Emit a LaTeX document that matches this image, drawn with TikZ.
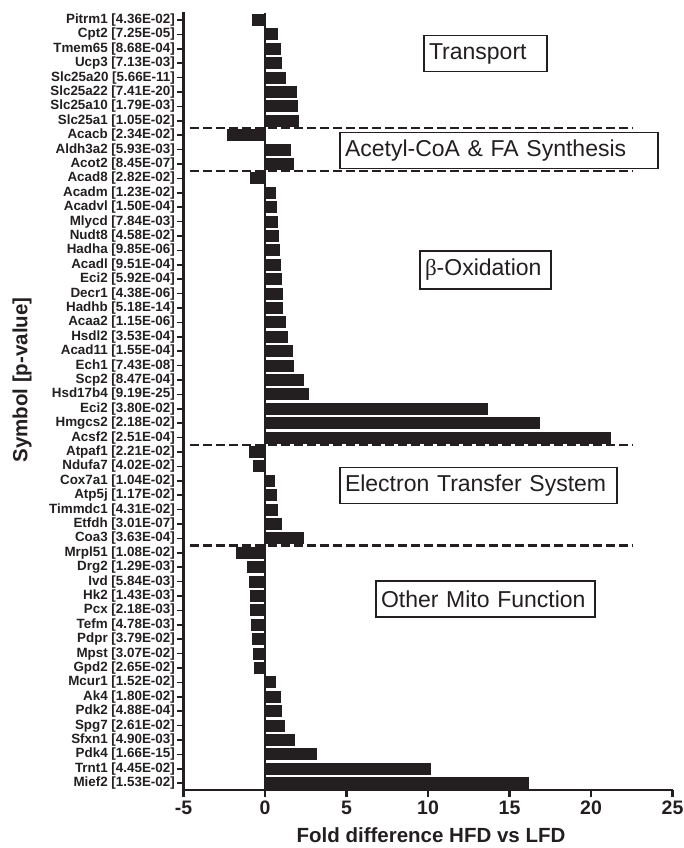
\documentclass[tikz,border=0pt]{standalone}
\usepackage{fontspec}
\setmainfont{Liberation Sans}
\newfontfamily\grk{Liberation Serif}
\definecolor{ink}{HTML}{231F20}
\tikzset{
  lbl/.style={anchor=east, inner sep=0pt, text=ink, font=\fontsize{13.4}{15}\selectfont\bfseries},
  ytick/.style={draw=ink, line width=1.6pt},
  axisline/.style={draw=ink, line width=2.2pt},
  zeroline/.style={draw=ink, line width=2pt},
  sepline/.style={draw=ink, line width=2.4pt, dash pattern=on 9pt off 4pt},
  catbox/.style={draw=ink, line width=1.8pt, text=ink, fill=white, inner xsep=5pt, inner ysep=0pt,
    minimum height=36pt, align=left, font=\fontsize{23}{26}\selectfont},
  ticklbl/.style={text=ink, inner sep=0pt, font=\fontsize{19.5}{21}\selectfont\bfseries},
  axlbl/.style={text=ink, inner sep=0pt, font=\fontsize{20.5}{23}\selectfont\bfseries},
  barfill/.style={fill=ink}
}
\begin{document}
\begin{tikzpicture}[x=1pt,y=-1pt]
\useasboundingbox (0,0) rectangle (683,848);
% bars, labels and ticks
\foreach \g/\p/\v [count=\i from 0] in {
 Pitrm1/4.36E-02/-0.8, Cpt2/7.25E-05/0.8, Tmem65/8.68E-04/1.0, Ucp3/7.13E-03/1.05,
 Slc25a20/5.66E-11/1.3, Slc25a22/7.41E-20/1.96, Slc25a10/1.79E-03/2.02, Slc25a1/1.05E-02/2.1,
 Acacb/2.34E-02/-2.33, Aldh3a2/5.93E-03/1.6, Acot2/8.45E-07/1.78,
 Acad8/2.82E-02/-0.92, Acadm/1.23E-02/0.67, Acadvl/1.50E-04/0.75, Mlycd/7.84E-03/0.82,
 Nudt8/4.58E-02/0.88, Hadha/9.85E-06/0.92, Acadl/9.51E-04/0.96, Eci2/5.92E-04/1.06,
 Decr1/4.38E-06/1.08, Hadhb/5.18E-14/1.12, Acaa2/1.15E-06/1.27, Hsdl2/3.53E-04/1.39,
 Acad11/1.55E-04/1.74, Ech1/7.43E-08/1.8, Scp2/8.47E-04/2.41, Hsd17b4/9.19E-25/2.68,
 Eci2/3.80E-02/13.7, Hmgcs2/2.18E-02/16.9, Acsf2/2.51E-04/21.2,
 Atpaf1/2.21E-02/-0.96, Ndufa7/4.02E-02/-0.72, Cox7a1/1.04E-02/0.63, Atp5j/1.17E-02/0.75,
 Timmdc1/4.31E-02/0.8, Etfdh/3.01E-07/1.04, Coa3/3.63E-04/2.41,
 Mrpl51/1.08E-02/-1.8, Drg2/1.29E-03/-1.09, Ivd/5.84E-03/-0.96, Hk2/1.43E-03/-0.92,
 Pcx/2.18E-03/-0.9, Tefm/4.78E-03/-0.88, Pdpr/3.79E-02/-0.78, Mpst/3.07E-02/-0.72,
 Gpd2/2.65E-02/-0.66, Mcur1/1.52E-02/0.67, Ak4/1.80E-02/0.96, Pdk2/4.88E-04/1.02,
 Spg7/2.61E-02/1.23, Sfxn1/4.90E-03/1.84, Pdk4/1.66E-15/3.21, Trnt1/4.45E-02/10.2,
 Mief2/1.53E-02/16.2}
{
  \pgfmathsetmacro\yy{20+14.4*\i}
  \node[lbl] (l\i) at (175,\yy) {\g{} [\p]};
  \draw[ytick] (176.5,\yy) -- (183.5,\yy);
  \fill[barfill] (265,\yy-6) rectangle ({265+16.3*\v},\yy+6);
}
% zero line
\draw[zeroline] (265,13) -- (265,790);
% axes
\draw[axisline] (183.5,12) -- (183.5,790) -- (673,790);
\foreach \t [count=\k from 0] in {-5,0,5,10,15,20,25} {
  \pgfmathsetmacro\xx{265+16.3*\t}
  \draw[axisline] (\xx,790) -- (\xx,797);
  \node[ticklbl] (t\k) at (\xx,808) {\t};
}
% separators
\foreach \r in {7.5,10.5,29.5,36.5} {
  \pgfmathsetmacro\yy{20+14.4*\r}
  \draw[sepline] (190,\yy) -- (633,\yy);
}
% category boxes
\node[catbox, text width=113pt] (c1) at (485.5,53.5) {Transport};
\node[catbox, text width=308pt] (c2) at (499,150.5) {Acetyl-CoA \& FA Synthesis};
\node[catbox, text width=121pt, minimum height=38pt] (c3) at (485.5,270) {{\grk β}-Oxidation};
\node[catbox, text width=267pt] (c4) at (478.5,485.5) {Electron Transfer System};
\node[catbox, text width=209pt] (c5) at (485.5,599) {Other Mito Function};
% axis labels
\node[axlbl] (xl) at (431,835) {Fold difference HFD vs LFD};
\node[axlbl, rotate=90] (yl) at (22,380) {Symbol [p-value]};
\end{tikzpicture}
\end{document}
